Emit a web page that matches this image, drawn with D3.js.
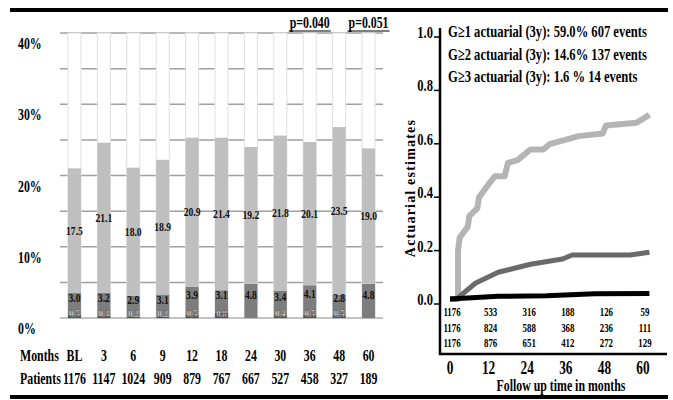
<!DOCTYPE html>
<html>
<head>
<meta charset="utf-8">
<title>Toxicity by month</title>
<script src="https://d3js.org/d3.v7.min.js"></script>
<style>
  body { margin: 0; background: #fff; }
  svg { font-family: "Liberation Serif", "Times New Roman", serif; font-weight: bold; }
</style>
</head>
<body>
<svg id="chart" width="673" height="400"></svg>
<script>
// ---- data ----
var months   = ["BL", "3", "6", "9", "12", "18", "24", "30", "36", "48", "60"];
var patients = [1176, 1147, 1024, 909, 879, 767, 667, 527, 458, 327, 189];
var g1 = [17.5, 21.1, 18.0, 18.9, 20.9, 21.4, 19.2, 21.8, 20.1, 23.5, 19.0];
var g2 = [3.0, 3.2, 2.9, 3.1, 3.9, 3.1, 4.8, 3.4, 4.1, 2.8, 4.8];
var g3 = [0.5, 0.3, 0.2, 0.2, 0.5, 0.8, 0, 0.4, 0.5, 0.5, 0];
var pctTicks = [0, 10, 20, 30, 40];
var gridTicks = [5, 10, 15, 20, 25, 30, 35, 40];
var pvals = [{month: "36", text: "p=0.040"}, {month: "60", text: "p=0.051"}];

// actuarial curves (months, estimate)
var g1Months = [0, 2.5, 2.5, 3, 5.5, 6, 8.5, 9, 12, 14, 17, 18, 21, 25, 29, 31, 40, 47.5, 48.5, 58, 62];
var g1Est    = [0, 0, 0.18, 0.23, 0.27, 0.31, 0.34, 0.38, 0.43, 0.46, 0.46, 0.51, 0.52, 0.56, 0.56, 0.58, 0.61, 0.62, 0.65, 0.66, 0.69];
var g2Months = [0, 2, 8, 15, 25, 35, 38, 56, 62];
var g2Est    = [0, 0, 0.06, 0.10, 0.13, 0.15, 0.165, 0.165, 0.175];
var g3Months = [0, 15, 30, 45, 62];
var g3Est    = [0, 0.01, 0.012, 0.02, 0.021];
var yTicks = [0.0, 0.2, 0.4, 0.6, 0.8, 1.0];
var xTicks = [0, 12, 24, 36, 48, 60];
var riskRows = [
  [1176, 533, 316, 188, 126, 59],
  [1176, 824, 588, 368, 236, 111],
  [1176, 876, 651, 412, 272, 129]
];
var legendLines = [
  "G\u22651 actuarial (3y): 59.0% 607 events",
  "G\u22652 actuarial (3y): 14.6% 137 events",
  "G\u22653 actuarial (3y): 1.6 % 14 events"
];

var SX = 0.74; // the figure's lettering is narrow
var svg = d3.select("#chart");

function label(parent, x, y, s, size, anchor) {
  return parent.append("text")
    .attr("transform", "translate(" + x + "," + y + ") scale(" + SX + ",1)")
    .attr("text-anchor", anchor || "start")
    .attr("font-size", size)
    .text(s);
}

// frame lines
svg.append("line").attr("x1", 10).attr("x2", 668).attr("y1", 10).attr("y2", 10)
  .attr("stroke", "#000").attr("stroke-width", 4);
svg.append("line").attr("x1", 10).attr("x2", 668).attr("y1", 397).attr("y2", 397)
  .attr("stroke", "#000").attr("stroke-width", 4);

//------------------------------- LEFT: stacked bars -------------------------------
var x = d3.scaleBand().domain(months).range([60, 383]).paddingInner(0.557).paddingOuter(0.27);
var y = d3.scaleLinear().domain([0, 40]).range([318, 33]);

var left = svg.append("g");

// grid lines every 5%
left.selectAll("line.grid").data(gridTicks).enter().append("line")
  .attr("class", "grid")
  .attr("x1", 60).attr("x2", 383)
  .attr("y1", function(d) { return y(d); }).attr("y2", function(d) { return y(d); })
  .attr("stroke", "#a0a0a0").attr("stroke-width", 1.5);

// white column for each bar (covers the grid)
left.selectAll("rect.col").data(months).enter().append("rect")
  .attr("class", "col")
  .attr("x", function(d) { return x(d); })
  .attr("width", x.bandwidth())
  .attr("y", y(40))
  .attr("height", y(0) - y(40))
  .attr("fill", "#fff").attr("stroke", "#e0e0e0").attr("stroke-width", 1);

// baseline
left.append("line").attr("x1", 60).attr("x2", 383).attr("y1", y(0)).attr("y2", y(0))
  .attr("stroke", "#888").attr("stroke-width", 1.2);

var stack = months.map(function(m, i) {
  return {m: m, g1: g1[i], g2: g2[i], g3: g3[i]};
});

// G>=3 (bottom)
left.selectAll("rect.s3").data(stack).enter().append("rect")
  .attr("x", function(d) { return x(d.m); }).attr("width", x.bandwidth())
  .attr("y", function(d) { return y(d.g3); })
  .attr("height", function(d) { return y(0) - y(d.g3); })
  .attr("fill", "#555");
// G2
left.selectAll("rect.s2").data(stack).enter().append("rect")
  .attr("x", function(d) { return x(d.m); }).attr("width", x.bandwidth())
  .attr("y", function(d) { return y(d.g3 + d.g2); })
  .attr("height", function(d) { return y(d.g3) - y(d.g3 + d.g2); })
  .attr("fill", "#7d7d7d");
// G1
left.selectAll("rect.s1").data(stack).enter().append("rect")
  .attr("x", function(d) { return x(d.m); }).attr("width", x.bandwidth())
  .attr("y", function(d) { return y(d.g3 + d.g2 + d.g1); })
  .attr("height", function(d) { return y(d.g3 + d.g2) - y(d.g3 + d.g2 + d.g1); })
  .attr("fill", "#bfbfbf");

// value labels
stack.forEach(function(d) {
  var cx = x(d.m) + x.bandwidth() / 2;
  label(left, cx, y(d.g3 + d.g2 + d.g1 / 2) + 4, d.g1.toFixed(1), 13, "middle").attr("fill", "#111");
  label(left, cx, y(d.g3 + d.g2 / 2) - 2, d.g2.toFixed(1), 13, "middle").attr("fill", "#111");
  if (d.g3 > 0) {
    label(left, cx, y(0) - 1, d.g3.toFixed(1), 11, "middle")
      .attr("fill", "#eeeeee").attr("stroke", "#444").attr("stroke-width", 0.4);
  }
});

// y labels
pctTicks.forEach(function(t) {
  label(left, 18, y(t) + 16, t + "%", 16, "start");
});

// p values
pvals.forEach(function(p) {
  var cx = x(p.month) + x.bandwidth() / 2;
  label(left, cx, 28, p.text, 16, "middle");
  left.append("line").attr("x1", cx - 21).attr("x2", cx + 21).attr("y1", 31).attr("y2", 31)
    .attr("stroke", "#000").attr("stroke-width", 1.2);
});

// months / patients rows
label(left, 20, 361, "Months", 16, "start");
label(left, 20, 384, "Patients", 16, "start");
months.forEach(function(m, i) {
  var cx = x(m) + x.bandwidth() / 2;
  label(left, cx, 361, m, 16, "middle");
  label(left, cx, 384, patients[i], 16, "middle");
});

//------------------------------- RIGHT: actuarial curves -------------------------------
var xr = d3.scaleLinear().domain([0, 60]).range([450, 643]);
var yr = d3.scaleLinear().domain([0, 1]).range([299, 32]);
var right = svg.append("g");

// axes lines
right.append("line").attr("x1", 440).attr("x2", 440).attr("y1", 28).attr("y2", 355)
  .attr("stroke", "#000").attr("stroke-width", 2.5);
right.append("line").attr("x1", 439).attr("x2", 667).attr("y1", 354).attr("y2", 354)
  .attr("stroke", "#000").attr("stroke-width", 2.5);

yTicks.forEach(function(t) {
  right.append("line").attr("x1", 434).attr("x2", 440).attr("y1", yr(t) + 5).attr("y2", yr(t) + 5)
    .attr("stroke", "#000").attr("stroke-width", 1.5);
  label(right, 433, yr(t) + 6, t.toFixed(1), 17, "end");
});
xTicks.forEach(function(t) {
  label(right, xr(t), 374, t, 18, "middle");
});
label(right, 561, 391, "Follow up time in months", 16, "middle");
right.append("text")
  .attr("transform", "translate(415,188) rotate(-90)")
  .attr("text-anchor", "middle")
  .attr("font-size", 14)
  .attr("letter-spacing", 1.2)
  .text("Actuarial estimates");

// legend text
legendLines.forEach(function(s, i) {
  label(right, 448, 37 + i * 22.5, s, 17, "start");
});

// risk table
riskRows.forEach(function(row, r) {
  row.forEach(function(v, c) {
    label(right, xr(xTicks[c]) + 2, 316 + r * 15.5, v, 12, "middle");
  });
});

// curves
var line = d3.line().x(function(d) { return xr(d[0]); }).y(function(d) { return yr(d[1]); });
var curves = [
  {m: g1Months, v: g1Est, color: "#b4b4b4", w: 6},
  {m: g2Months, v: g2Est, color: "#6a6a6a", w: 5},
  {m: g3Months, v: g3Est, color: "#000", w: 5}
];
curves.forEach(function(c) {
  var pts = c.m.map(function(mm, i) { return [mm, c.v[i]]; });
  right.append("path").attr("d", line(pts))
    .attr("fill", "none").attr("stroke", c.color).attr("stroke-width", c.w)
    .attr("stroke-linejoin", "round");
});
</script>
</body>
</html>
